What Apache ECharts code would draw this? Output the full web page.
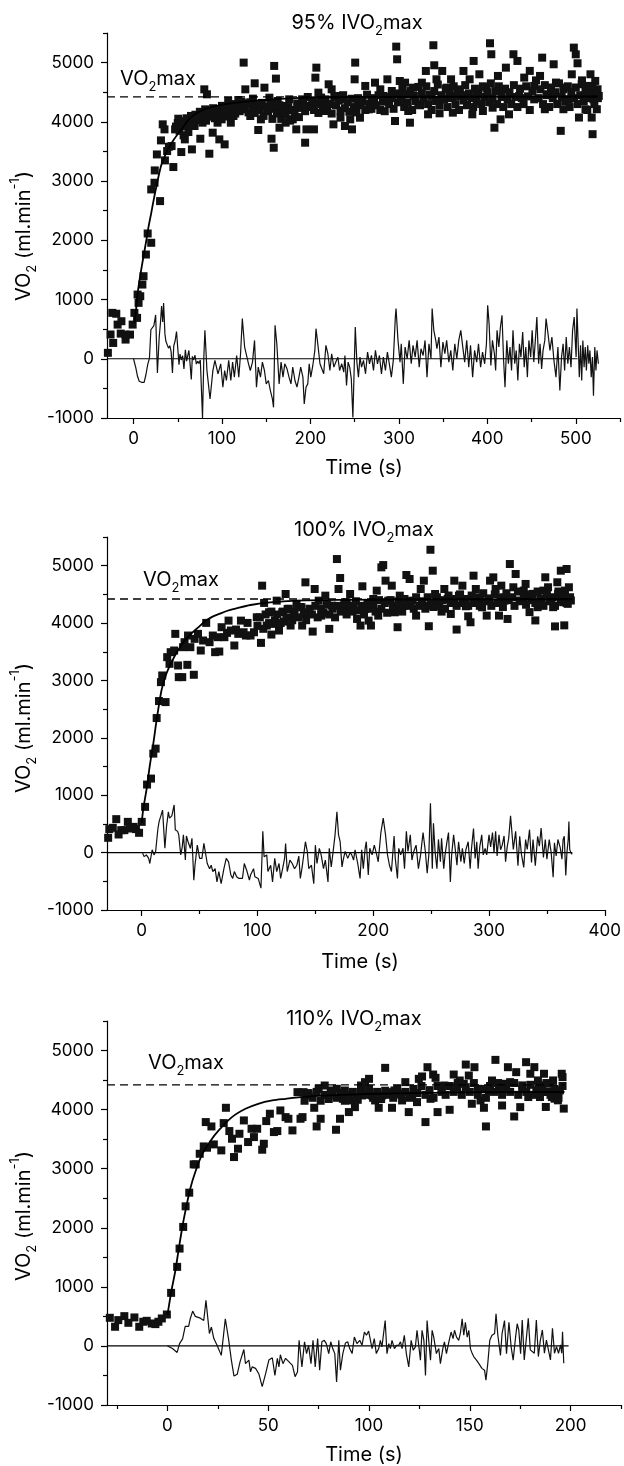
<!DOCTYPE html>
<html><head><meta charset="utf-8">
<script src="https://cdn.jsdelivr.net/npm/echarts@6/dist/echarts.min.js"></script>
<style>html,body{margin:0;padding:0;background:#fff}#c{width:624px;height:1466px}</style>
</head><body><div id="c"></div>
<script>
const FONT = 'Inter, "Liberation Sans", Arial, sans-serif';
const vo2max = 4420;
const yRange = [-1000, 5500];
const yMajor = [-1000, 0, 1000, 2000, 3000, 4000, 5000];
const yMinor = [-500, 500, 1500, 2500, 3500, 4500, 5500];
const x1Range = [-30, 550], x1Major = [0,100,200,300,400,500], x1Minor = [50,150,250,350,450,550];
const x2Range = [-30, 400], x2Major = [0,100,200,300,400], x2Minor = [50,150,250,350];
const x3Range = [-30, 225], x3Major = [0,50,100,150,200], x3Minor = [-25,25,75,125,175,225];
const titles = ['95% IVO', '100% IVO', '110% IVO'];
const p1End = {data: 526, zero: 502};
const p2End = {data: 371, zero: 372};
const p3End = {data: 197, zero: 199};

// ---------- Panel 1 (95%) ----------
const p1Scatter = [
[-29,100],[-26,410],[-23,267],[-24,775],[-19.5,760],[-18,577],[-13.7,634],[-14.5,425],[-9,408],[-9,324],[-4,408],[-1,577],[1,775],[4,690],[4.6,1084],[7.6,1056],[5.7,944],[10,1253],[11.3,1394],[14,1760],[16,2115],[20,1958],[20,2859],[23.7,2972],[24,3180],[26.4,3450],[30,2662],[31,3687],[33,3958],[35,3873],[35.5,3349],[38,3507],[40,3580],[43,3591],[45,3237],[47,3873],[50.6,4053],[54,3490],[56.6,3772],[58,3704],[62,3828],[64,4014],[66,3535],[69,3930],[72.5,4031],[75.5,3715],[78,3986],[80,4549],[83,4465],[81,4211],[85.7,3462],[87,4087],[89.5,3817],[92,4155],[95,3986],[97,3704],[99.6,4042],[103,3620],[104.5,4211],[107,4352],[110,3986],[113,4099],[116,4239],[118.5,4369],[121.5,4268],[124.5,5000],[126.4,4549],[129,4313],[132,4099],[135,4392],[137,4651],[139.6,4211],[141,3862],[144,4042],[148,4577],[151,4211],[153.6,4408],[156,3715],[158.5,3563],[159,4944],[161,4730],[163,4352],[165,3901],[167,4155],[170,4268],[172,3986],[176,4380],[180,4042],[184,3873],[186,4239],
[190.6,4380],[194,3648],[195.5,3873],[200,4268],[204,3873],[206.7,4915],[205.6,4746],[209,4493],[213,4296],[217,4183],[220.6,4634],[224,4549],[226,3958],[230,4437],[234,4070],[237.5,4380],[239,3930],[245,4042],[247,3873],[250,4718],[250.6,5000],[254,4324],[256,4070],[262,4606],[266,4211],[269,4380],[273,4662],[279,4549],[282.5,4437],[287,4718],[292,4521],[295.6,4014],[297,5270],[298,5056],[301,4690],[303,4437],[307,4662],[310.6,4183],[312.5,3986],[316,4577],[322,4296],[326,4662],[330.5,4859],[333,4127],[337,4437],[339,5293],[340,4955],[342.5,4718],[346,4144],[349,4859],[354,4577],[359,4718],[361,4155],[365,4437],[369,4549],[373,4859],[376,4437],[380,4718],[383,4127],[384.5,5028],[387.5,4493],[391,4803],[395,4183],[399,4577],[403,5327],[404.5,5141],[406,4239],[408,3901],[412,4775],[415,4042],[417.5,4549],[421,4915],[424.5,4127],[429.5,5141],[434,5028],[436,4437],
[441.7,4747],[448,4860],[453,4607],[459.6,4775],[462,5084],[465,4213],[468.6,4466],[475,4972],[477.6,4663],[483,3848],[486,4213],[489,4579],[492,4382],[495.5,4803],[497.8,5253],[500,5140],[502,4989],[503.6,4073],[506.7,4635],[509,4438],[511,4213],[514,4607],[516.6,4803],[518,4073],[519,3792],[520,4382],[522,4691],[523.8,4213],[524.6,4550],[526,4438],
[48,3920],[50,3980],[52,3850],[55,4010],[57,3930],[60,4060],[62,3950],[65,4100],[67,3990],[70,4120],[72,4050],[75,4170],[77,4080],[80,4130],[82,4020],[85,4180],[87,4100],[90,4230],[92,4060],[95,4200],[97,4120],[100,4270],[102,4150],[105,4090],[107,4230],[110,4180],[112,4300],[115,4140],[117,4260],[120,4180],[122,4340],[125,4210],[127,4290],[130,4160],[132,4330],[135,4240],[137,4150],[140,4280],[142,4200],[145,4320],[147,4100],[150,4260],[152,4180],[155,4300],[157,4050],[160,4220],[162,4140],[165,4280],[167,4050],[170,4180],[172,4120],[175,4250],[177,4020],[180,4200],[182,4130],[185,4310],[187,4080],[190,4240],
[192,4300],[194,4180],[197,4420],[199,4250],[202,4360],[204,4200],[207,4330],[209,4150],[212,4410],[214,4260],[217,4380],[219,4200],[222,4300],[224,4140],[227,4420],[229,4280],[232,4360],[234,4190],[237,4450],[239,4230],[242,4330],[244,4170],[247,4390],[249,4250],[252,4160],[254,4400],[257,4280],[259,4350],[262,4200],[264,4460],[267,4300],[269,4220],[272,4400],[274,4280],[277,4450],[279,4200],[282,4340],[284,4180],[287,4420],[289,4300],[292,4400],[294,4220],[297,4480],[299,4330],
[302,4380],[304,4560],[306,4250],[308,4470],[310,4330],[313,4520],[315,4200],[317,4440],[319,4350],[322,4590],[324,4280],[326,4480],[328,4380],[331,4600],[333,4300],[335,4460],[337,4200],[340,4520],[342,4350],[344,4630],[346,4280],[348,4450],[351,4380],[353,4560],[355,4250],[357,4480],[360,4400],[362,4600],[364,4300],[366,4500],[368,4200],[371,4450],[373,4360],[375,4620],[377,4280],[379,4480],[382,4400],[384,4250],[386,4560],[388,4350],[390,4470],[393,4300],[395,4600],[397,4420],[400,4500],[402,4330],[404,4650],[406,4400],[409,4520],[411,4300],[413,4600],[416,4420],[418,4250],[420,4560],[423,4380],[425,4500],[427,4300],[430,4620],[432,4420],[434,4250],[437,4560],[439,4400],[441,4300],[444,4600],[446,4430],[448,4200],[451,4520],[453,4380],[455,4700],[458,4400],[460,4550],[463,4300],[465,4620],[467,4450],[470,4250],[472,4580],[474,4400],[477,4500],[479,4300],[481,4650],[484,4420],[486,4550],[488,4350],[491,4600],[493,4250],[495,4500],[498,4400],[500,4580],[502,4300],[505,4450],[507,4700],[509,4350],[511,4550],[513,4200],[515,4500],[517,4400],[519,4600],[521,4300],[523,4480],[525,4400]
];
const p1Fit = [[1,600],[3,850],[4.6,1100],[7,1350],[10,1620],[14,1960],[17,2230],[20,2460],[23,2700],[26,2920],[31,3250],[35,3410],[39,3540],[46,3710],[54,3870],[65,4080],[80,4210],[104,4300],[134,4350],[188,4405],[260,4420],[400,4425],[525,4428]];
const p1Resid = [
[0,0],[2.6,-155],[4.5,-296],[6.4,-380],[9,-397],[12,-397],[14,-270],[16,-100],[18,10],[19.6,490],[21,520],[23,560],[25,740],[27,-240],[29,360],[30.5,620],[31.7,890],[33,620],[34,940],[35.5,420],[36.5,300],[38,270],[39.5,180],[41,220],[42.5,120],[44,-240],[45.5,220],[47,300],[48.6,460],[50,180],[51.4,-100],[52.5,80],[54,-20],[55.5,50],[57,-170],[58.6,150],[60,-40],[61,-20],[62.6,140],[64,-100],[65.3,-350],[66.5,40],[68,-20],[69.5,60],[71,-90],[72.5,-40],[74,-80],[75.5,-20],[77,-30],[78,-1000],[79.5,40],[80.7,480],[83,-200],[86.5,-680],[89.7,-200],[92,-28],[95.5,-254],[98.6,-85],[101,-480],[103,-200],[105,-367],[107.6,-28],[110,-367],[112,-56],[114,-310],[116.6,56],[119,-310],[121,85],[123,678],[125.6,198],[127.8,226],[130,-85],[132,-198],[134.5,-56],[136.8,310],[139,-480],[141,-141],[143.5,-310],[145.7,-56],[148,-198],[150,-424],[152.5,-367],[154.7,-537],[157,-678],[158.3,-820],[160,565],[162,254],[164.6,-424],[166.8,-56],[169,-310],[171,-85],[173.5,-170],[175.8,-310],[178,-424],[180,-141],[182.5,-367],[184.8,-480],[187,-310],[189,-141],[191.5,-310],[193,-763],[195,-480],[197,-424],[198.6,-85],[200.4,-310],[202.7,-113],[205,141],[206.3,508],[208.5,226],[210.8,-85],[213,-56],[215,-254],[217.5,226],[219.7,85],[222,-198],[224,85],[226.5,-141],[228.7,-56],[231,28],[233,-198],[235.4,-85],[237.7,-226],[239,56],[240.8,-452],[242.6,-56],[244.4,-141],[246.2,-339],[248,-990],[249,-990],[250.7,537],[252.5,-56],[254.3,-310],[256,28],[257.8,-141],[260,-28],[262.3,-254],[264.6,113],[266.8,-85],[269,56],[271.3,-198],[273.5,141],[275.8,-85],[278,56],[280.3,-254],[282.5,28],[284.8,-198],[287,113],[289.2,-85],[291.5,-310],[293.7,-28],[296,706],[296.8,848],[299,310],[301.3,-56],[302.7,254],[305,-424],[307,198],[309.4,0],[311.6,310],[314,-85],[316,226],[318.4,28],[320.6,310],[323,-141],[325,170],[327.4,56],[329.6,310],[331.8,-310],[334,254],[336.3,0],[337.6,848],[339.5,480],[341.7,310],[343,170],[345.3,367],[347.5,-141],[349.8,282],[352,85],[354,310],[356.5,-56],[358.7,141],[361,-198],[363.2,254],[365.5,0],[367.7,310],[370,480],[372,226],[374.4,-56],[376.7,310],[379,-141],[381,226],[383.4,-310],[385.6,141],[388,-56],[390,254],[392.4,-141],[394.6,113],[397,-85],[399,254],[400.4,904],[402,593],[404,-113],[405.8,310],[408,85],[409.4,-198],[411,480],[413,198],[414.8,537],[416.6,735],[418.4,-28],[420,-480],[422,310],[423.8,-85],[425.6,198],[427.4,-198],[429,480],[431,-85],[432.7,141],[434.5,-367],[436.3,254],[438,28],[440,452],[441.7,-141],[443.5,198],[445.3,-310],[447,310],[449,28],[450.7,480],[452.5,-56],[454.3,310],[456,706],[458,-85],[459.6,254],[461.4,-170],[463,141],[465,310],[466.4,678],[468.6,424],[470.8,141],[473,367],[475.3,-28],[477.6,-310],[479.8,198],[482,-537],[483.9,28],[485.7,254],[487.4,-198],[489.2,367],[491,-85],[492.8,198],[494.6,-141],[496.4,480],[498.2,706],[499.6,254],[500.4,28],[501.3,848],[502.6,310],[504,-310],[505.4,226],[506.7,-367],[508,310],[509.4,-141],[510.7,198],[512,-198],[513.5,226],[514.8,-85],[516,141],[517.5,-310],[518.8,28],[520,-622],[521.5,198],[522.8,-198],[524,141],[525.6,-85]
];

// ---------- Panel 2 (100%) ----------
const p2Scatter = [
[-29,258],[-28,409],[-25,432],[-22,583],[-20,316],[-17.7,391],[-15,391],[-12,536],[-10,420],[-7,449],[-5,409],[-2.3,345],[0,536],[2.9,797],[4.6,1186],[8,1290],[10,1725],[12,1812],[12.9,2345],[14.9,2641],[16.6,2971],[17.7,3087],[20.6,2623],[22,3406],[24,3290],[25,3493],[28,3522],[29,3812],[31.4,3261],[32,3058],[35,3058],[35.7,3580],[37,3667],[39.4,3272],[40,3783],[42,3580],[45,3099],[45.7,3725],[48.6,3812],[51,3522],[53,3696],[55.7,4003],[58.6,3667],[61.4,3783],[63.4,3493],[65.7,3754],[67,3504],[69,3928],[71.4,3754],[73.7,3829],[75,4043],[77,3870],[80,3609],[81.4,3887],[83.4,3812],[85.7,4043],[88,3840],[90,3783],[91.4,4003],[94,3783],[97,3840],[99.4,4101],[103,3655],[104,4652],[105.7,4351],[108,3957],[110,4188],[112,3800],[114,3986],[116.6,4391],[118.6,3870],[121.4,4188],[122.9,4026],[124.3,4507],[126,4246],[128.6,3957],[131.4,4130],[133.7,4333],
[138.6,3957],[138,4275],[141.4,4710],[143.7,4188],[147.7,3852],[149.4,4594],[152.9,4391],[155,4130],[158.6,4478],[162,3899],[164.3,4304],[168.6,5116],[170,4594],[171.4,4786],[174,4217],[177,4362],[180,4507],[183,4304],[186,4072],[189,3957],[190.6,4641],[193,4246],[196,4043],[198,3957],[200,4420],[203,4565],[204.3,4130],[207,4971],[208.6,5011],[210.6,4739],[213,4391],[216,4652],[218.6,4188],[221,3928],[222.9,4478],[226.6,4304],[228.6,4838],[231.4,4768],[234,4391],[237,4130],[241,4594],[243.7,4739],[245.7,4304],[248,3945],[249.4,5278],[251.4,4913],[253.4,4507],[255.7,4362],[259,4200],[261.4,4594],[264.3,4420],[267,4159],[270,4739],[272,3887],[274,4478],[277,4652],[280,4293],[282,4119],[284,4014],[286.6,4826],[288.6,4594],[292,4420],[294,4275],[298,4130],[300.9,4739],[303.7,4797],[305.7,4594],[308.6,4130],[310.6,4652],[313.4,4391],[316,4072],[318,5029],
[321,4624],[323,4855],[326.5,4393],[330,4566],[331.6,4682],[335,4191],[337.8,4509],[340,4046],[342,4277],[344.6,4422],[347,4566],[348.6,4798],[351,4624],[353.7,4393],[355.4,4277],[357,3942],[359,4711],[359.7,4509],[362,4913],[364,4364],[365,3960],[365.6,4566],[367,4942],[368,4335],[369,4624],[370.7,4393],
[100,3950],[102,4100],[105,3900],[107,4150],[110,4000],[112,4200],[115,4050],[117,4150],[120,4000],[122,4200],[125,4100],[127,4250],[130,4050],[132,4200],[135,4100],[137,4280],[140,4150],[142,4050],[145,4250],[147,4150],[150,4300],[152,4100],[155,4250],[157,4180],[160,4320],[162,4150],[165,4250],[167,4100],[170,4300],[172,4200],[175,4350],[177,4150],[180,4280],[182,4200],[185,4380],[187,4220],[190,4300],[192,4150],[195,4350],[197,4250],[200,4320],[202,4200],[205,4400],[207,4250],[210,4350],[212,4180],[215,4400],[217,4300],[220,4250],[222,4380],[225,4200],[227,4420],[230,4300],[232,4380],[235,4250],[237,4450],[240,4300],[242,4380],[245,4250],[247,4450],[250,4350],[252,4280],[255,4450],[257,4300],[260,4400],[262,4250],[265,4480],[267,4350],[270,4420],[272,4300],[275,4500],[277,4350],[280,4420],[282,4300],[285,4480],[287,4350],[290,4450],[292,4300],[295,4520],[297,4380],[300,4430],[302,4300],[305,4500],[307,4350],[310,4450],[312,4280],[315,4520],[317,4400],[320,4450],[322,4300],[325,4550],[327,4380],[330,4450],[332,4320],[335,4500],[337,4400],[340,4350],[342,4550],[345,4420],[347,4300],[350,4500],[352,4380],[355,4450],[357,4300],[360,4550],[362,4400],[365,4480],[367,4350],[370,4450]
];
const p2Fit = [[0,520],[1.4,770],[4.3,1120],[7,1520],[10,1900],[13,2330],[17,2820],[20,3040],[23,3200],[28.6,3430],[33,3580],[37,3690],[43,3820],[48.6,3920],[54,4020],[60,4100],[67,4160],[74,4215],[84,4270],[94,4315],[111,4360],[134,4390],[170,4405],[250,4412],[372,4415]];
const p2Resid = [
[0.6,0],[2,-70],[4,-40],[6,-100],[7,-190],[9,50],[10.6,-40],[12,20],[14,420],[15,540],[18,740],[20,75],[21.4,450],[23,710],[24,600],[26,640],[28,830],[29,400],[31,370],[32,310],[33.7,-40],[35,100],[36,310],[37.7,-130],[38.6,290],[40,190],[42,75],[43.4,250],[45,-480],[46,-220],[48,130],[50,-100],[52,-100],[53.7,160],[55,160],[56.6,-190],[58.6,-280],[60,-220],[61.4,-330],[63.4,-280],[65,-510],[66.6,-330],[68.6,-540],[71,-280],[73,-100],[75,-160],[77,-390],[78.6,-450],[80,-330],[82,-420],[84,-450],[87,-450],[88.6,-190],[91,-330],[93,-480],[94,-390],[96.6,-280],[97.7,-420],[100.6,-450],[103,-620],[104.6,370],[105.7,-70],[108,-40],[109,-330],[111.4,-220],[113,-510],[114.9,-100],[116.6,-330],[118.6,-190],[120,-450],[122.3,-220],[123.4,-100],[124.3,160],[125.7,-330],[128,-130],[130,-190],[132,-280],[134,-220],
[135.7,-60],[137,-450],[138.6,-250],[140,-280],[141.4,190],[143,20],[144.3,-280],[146.6,-220],[148.6,-540],[150,130],[151.4,-190],[153.4,75],[155,-40],[157,-280],[158.6,-130],[160.9,-510],[162,75],[163.7,-250],[165,-40],[167,310],[168.6,710],[170,310],[171.4,190],[173,-250],[174,-130],[175.7,20],[178,-100],[180,0],[181.4,-40],[183,-130],[184.3,50],[186.6,-190],[188.6,-450],[190,50],[191.4,-280],[193,75],[194,190],[195.7,-390],[197,75],[199,-40],[200.9,130],[203,-40],[204.3,-160],[206.6,350],[208.6,600],[210.6,310],[212.3,-40],[214,-220],[215.7,-330],[218,290],[219,-100],[220.9,-450],[222,75],[223.7,-40],[225.7,75],[227,-280],[228.6,370],[230,20],[232,310],[233.4,-130],[235,20],[237,130],[239,-280],[240.9,-40],[243,350],[245,20],[246.6,-360],[248,-40],[249.4,860],[251,-280],[252,510],[253.4,20],[255,-280],[256.3,230],[258,-160],[259,250],[260.9,-280],[262,-40],[263.7,190],[265,350],[266.6,-510],[267.7,-40],[269.4,310],[270.6,100],[272.3,-220],[273.7,190],[275.7,-160],[277,75],[278.6,-190],[280,50],[282,190],[283.7,-280],[284.9,75],[286.6,420],[288,-100],[289.4,190],[290.6,-280],[292,100],[293.7,310],[295,-40],[296.6,75],[298,-40],[300,310],[301.4,100],[303,350],[304.3,0],[305.7,370],[307,-60],[308.6,310],[310,50],[311.4,130],[313,290],[314.3,-160],[315.7,100],[317,250],[318.6,640],
[321,57],[323,370],[325,-230],[326.5,285],[328,-30],[330,-257],[331.6,228],[333,57],[335,400],[336.7,-171],[338,228],[340,-228],[342,285],[343.5,114],[345,428],[347,-86],[348.6,228],[350,-114],[352,228],[353.7,0],[355.4,-428],[356.5,171],[358,-57],[359.5,228],[361.5,86],[363,-114],[364,228],[365,285],[366.3,-400],[367.3,0],[368.4,228],[369,543],[369.7,57],[370.7,0],[371.8,-30]
];

// ---------- Panel 3 (110%) ----------
const p3Scatter = [
[-28.6,476],[-26,324],[-24.4,437],[-21.4,504],[-19.4,391],[-16.4,482],[-14,324],[-12,409],[-10.3,425],[-7.8,380],[-6,369],[-4.5,409],[-2.8,465],[-0.3,532],[1.8,898],[4.8,1338],[6,1648],[7.8,2014],[9,2363],[10.8,2594],[13,3073],[14,3073],[16,3253],[18,3377],[19,3789],[21.8,3715],[19.6,3355],[23,3411],[26.7,3310],[27.9,3772],[29,4031],[30.7,3637],[32,3507],[33,3197],[35,3338],[35.7,3591],[37.9,3817],[40,3451],[41.7,3676],[42.9,3535],[44.5,3676],[47,3321],[47.8,3422],[49,3806],[50.8,3930],[52.8,3620],[54.5,3637],[56,3986],[58.6,3873],[60,3845],[62,3648],[64.5,4296],[66,3845],
[67.5,4296],[67,3873],[70,4240],[72.8,4031],[74,3715],[75,4352],[76,3845],[78,4408],[80,4240],[81,4324],[83.6,3659],[84,4352],[85.6,3845],[87,4183],[88,4324],[90,3958],[91.6,4155],[93,4042],[94.4,4166],[96,4408],[96.5,4240],[98,4465],[100,4521],[101.5,4240],[103,4155],[104.8,4031],[106.5,4240],[108,4707],[109,4296],[111.4,4031],[112.6,4324],[114.7,4268],[116.4,4155],[118,4465],[119.7,3958],[121.4,4240],[123.8,4127],[124.7,4521],[126.3,4561],[128,3789],[129,4718],[130.5,4183],[131.8,4594],[133,4538],[134,3958],[136,4324],[137.4,4408],[140,3997],[142,4594],[143.7,4380],[145,4493],[147,4437],[148,4763],[149.5,4577],[151,4099],[152.3,4718],[154,4352],[155.3,4155],[157,4031],[158,3715],[159.4,4324],[161,4493],[162.7,4842],[164.4,4380],[166,4070],[167,4437],[168.9,4718],[170,4465],[172,3884],[173,4634],[175,4042],
[176,4410],[177.9,4803],[179,4213],[180,4607],[182,4719],[183,4326],[183.8,4494],[184.8,4213],[185.8,4410],[186.8,4607],[187.7,4045],[188.7,4298],[189.7,4438],[190.7,4213],[191.3,4494],[192,4185],[192.7,4298],[193.7,4157],[194.7,4326],[195.6,4607],[196,4550],[196.6,4017],
[68,4150],[70,4280],[72,4200],[74,4300],[76,4150],[78,4250],[80,4180],[82,4300],[84,4200],[86,4280],[88,4150],[90,4250],[92,4300],[94,4200],[96,4300],[98,4250],[100,4350],[102,4200],[104,4300],[106,4180],[108,4320],[110,4250],[112,4200],[114,4350],[116,4250],[118,4300],[120,4200],[122,4350],[124,4280],[126,4400],[128,4250],[130,4330],[132,4200],[134,4400],[136,4300],[138,4250],[140,4400],[142,4300],[144,4450],[146,4250],[148,4380],[150,4300],[152,4450],[154,4250],[156,4350],[158,4200],[160,4400],[162,4300],[164,4450],[166,4250],[168,4350],[170,4300],[172,4450],[174,4250],[176,4350],[178,4300],[180,4420],[182,4250],[184,4380],[186,4300],[188,4450],[190,4250],[192,4350],[194,4200],[196,4400]
];
const p3Fit = [[0,520],[0.5,630],[2,940],[3.8,1253],[5.5,1620],[7.1,1958],[8.8,2268],[11.3,2662],[13.8,2944],[17,3225],[21.3,3468],[25.4,3648],[32,3873],[38.7,4014],[45,4099],[52,4155],[58.6,4183],[66,4211],[80,4240],[100,4265],[130,4285],[160,4295],[197,4300]];
const p3Resid = [
[0,0],[2.5,-45],[4.8,-110],[6,40],[7.5,120],[8.8,330],[10.5,330],[11.3,460],[12.5,590],[13.8,500],[16.3,470],[18,430],[19.1,770],[20.8,210],[21.8,320],[23,125],[24.6,10],[26.7,-160],[28.7,460],[30.4,95],[31.7,-240],[33,-510],[34.6,-480],[36,-270],[37.9,-60],[38.7,-300],[40.4,-240],[41.2,-440],[42,-355],[43.7,-380],[45.3,-470],[47,-690],[48.7,-470],[50.3,-240],[52,-200],[53.3,-500],[54.5,-210],[55.3,-355],[56,-150],[57.3,-300],[58.6,-210],[60.3,-270],[62,-330],[63.3,-520],[64.5,-440],[65.3,95],[66,120],
[66.7,-355],[68,70],[69,-130],[70,10],[71.2,-300],[72.2,95],[73.3,-355],[74.5,125],[75.5,-410],[76.6,70],[77.8,95],[78.8,40],[80,-130],[81,70],[82,-45],[83,-130],[83.9,-610],[85,95],[85.8,-410],[87,-130],[88.3,50],[89.4,70],[90.4,-45],[91.6,-130],[92.7,150],[94,40],[95.4,95],[96.5,10],[97.7,235],[98.7,180],[99.8,250],[100.7,95],[101.5,-45],[102.6,125],[103.6,-130],[104.8,-45],[105.6,95],[106.4,-15],[107.3,10],[108,430],[108.9,-130],[109.8,40],[110.6,-45],[111.4,95],[112.6,-45],[113.6,10],[114.7,10],[115.6,70],[116.4,-45],[117.5,180],[118.5,-130],[119.7,-355],[120.9,95],[121.9,-70],[123,-15],[123.8,265],[124.7,235],[125.5,-240],[126.3,265],[127.2,95],[128,-500],[128.8,430],[129.6,95],[130.5,-240],[131.3,265],[132.1,150],[133.4,-130],[134.6,-45],[135.4,-300],[136.6,-45],[137.4,70],[138.4,-130],[139.6,70],[140.7,235],[141.7,125],[142.4,265],[143.4,150],[144.5,95],[145.4,235],[146.2,460],[147,180],[147.8,400],[148.7,150],[149.5,265],[150.3,-45],[151.2,-130],[152,-185],[153.3,-240],[154.5,-300],[156,-380],[157.3,-410],[158,-580],[158.9,-300],[159.9,95],[161,180],[162.3,210],[163,545],[163.9,180],[165.2,-160],[166,210],[167.2,430],[168.2,-130],[169.4,400],[170.5,-15],[171.5,-240],[172.7,150],[173.5,375],[174.3,265],[175.2,-130],
[176,440],[177,-236],[179,466],[180,-67],[182,-124],[183,438],[184,-180],[185,100],[186,270],[187,-124],[188,100],[190,-236],[191,298],[192,-124],[193,-11],[194,-124],[195,17],[195.6,-124],[196,240],[196.6,-292]
];

const panels = [
  {title: titles[0], xr: x1Range, xMaj: x1Major, xMin: x1Minor, sc: p1Scatter, fit: p1Fit, res: p1Resid, end: p1End},
  {title: titles[1], xr: x2Range, xMaj: x2Major, xMin: x2Minor, sc: p2Scatter, fit: p2Fit, res: p2Resid, end: p2End},
  {title: titles[2], xr: x3Range, xMaj: x3Major, xMin: x3Minor, sc: p3Scatter, fit: p3Fit, res: p3Resid, end: p3End}
];

// layout (pixels)
const grids = [
  {left: 107, top: 33, width: 513, height: 385},
  {left: 107, top: 537, width: 505, height: 373},
  {left: 107, top: 1021, width: 514, height: 384}
];
const titlePos = [[357, 23], [364, 530], [354, 1019]];
const vLabelPos = [[120, 79], [143, 580], [148, 1063]];
const yNamePos = [[24, 236], [24, 728], [24, 1216]];
const xNamePos = [[364, 468], [360, 962], [364, 1455]];

const AX = {color: '#000', width: 1.2};
const lab = {color: '#000', fontSize: 17, fontFamily: FONT, formatter: v => String(v)};
const R = {
  m: {fontSize: 20, fontFamily: FONT, fill: '#000', lineHeight: 30},
  s: {fontSize: 13, fontFamily: FONT, fill: '#000', lineHeight: 11, verticalAlign: 'bottom'},
  p: {fontSize: 13, fontFamily: FONT, fill: '#000', lineHeight: 14, verticalAlign: 'top'}
};

const xAxis = [], yAxis = [], series = [], graphic = [];
panels.forEach((P, i) => {
  xAxis.push({gridIndex: i, type: 'value', min: P.xr[0], max: P.xr[1], position: 'bottom',
    axisLine: {show: true, onZero: false, lineStyle: AX},
    axisTick: {show: true, customValues: P.xMaj, length: 6, lineStyle: AX},
    axisLabel: Object.assign({customValues: P.xMaj, margin: 12}, lab),
    splitLine: {show: false}});
  xAxis.push({gridIndex: i, type: 'value', min: P.xr[0], max: P.xr[1], position: 'bottom',
    axisLine: {show: false, onZero: false},
    axisTick: {show: true, customValues: P.xMin, length: 4, lineStyle: AX},
    axisLabel: {show: false}, splitLine: {show: false}});
  yAxis.push({gridIndex: i, type: 'value', min: yRange[0], max: yRange[1], position: 'left',
    axisLine: {show: true, onZero: false, lineStyle: AX},
    axisTick: {show: true, customValues: yMajor, length: 6, lineStyle: AX},
    axisLabel: Object.assign({customValues: yMajor, margin: 13}, lab),
    splitLine: {show: false}});
  yAxis.push({gridIndex: i, type: 'value', min: yRange[0], max: yRange[1], position: 'left',
    axisLine: {show: false, onZero: false},
    axisTick: {show: true, customValues: yMinor, length: 4, lineStyle: AX},
    axisLabel: {show: false}, splitLine: {show: false}});
  const xi = 2 * i, yi = 2 * i;
  series.push({type: 'scatter', xAxisIndex: xi, yAxisIndex: yi, data: P.sc, symbol: 'rect', symbolSize: 8,
    itemStyle: {color: '#111', opacity: 1}, silent: true});
  series.push({type: 'line', xAxisIndex: xi, yAxisIndex: yi, data: [[P.xr[0], 0], [P.end.zero, 0]], showSymbol: false,
    lineStyle: {color: '#000', width: 1.1}, silent: true});
  series.push({type: 'line', xAxisIndex: xi, yAxisIndex: yi, data: [[P.xr[0], vo2max], [P.end.data, vo2max]], showSymbol: false,
    lineStyle: {color: '#000', width: 1.3, type: [8, 5]}, silent: true});
  series.push({type: 'line', xAxisIndex: xi, yAxisIndex: yi, data: P.res, showSymbol: false,
    lineStyle: {color: '#111', width: 1.2}, silent: true});
  series.push({type: 'line', xAxisIndex: xi, yAxisIndex: yi, data: P.fit, showSymbol: false, smooth: 0.3,
    lineStyle: {color: '#000', width: 1.8}, silent: true});

  graphic.push({type: 'text', x: titlePos[i][0], y: titlePos[i][1],
    style: {text: '{m|' + P.title + '}{s|2}{m|max}', rich: R, align: 'center', verticalAlign: 'middle'}});
  graphic.push({type: 'text', x: vLabelPos[i][0], y: vLabelPos[i][1],
    style: {text: '{m|VO}{s|2}{m|max}', rich: R, align: 'left', verticalAlign: 'middle'}});
  graphic.push({type: 'text', x: yNamePos[i][0], y: yNamePos[i][1], rotation: Math.PI / 2,
    style: {text: '{m|VO}{s|2}{m| (ml.min}{p|-1}{m|)}', rich: R, align: 'center', verticalAlign: 'middle'}});
  graphic.push({type: 'text', x: xNamePos[i][0], y: xNamePos[i][1],
    style: {text: 'Time (s)', font: '20px ' + FONT, fill: '#000', align: 'center', verticalAlign: 'middle'}});
});

const chart = echarts.init(document.getElementById('c'), null, {renderer: 'canvas'});
chart.setOption({animation: false, backgroundColor: '#fff', grid: grids, xAxis, yAxis, series, graphic});
</script>
</body></html>
